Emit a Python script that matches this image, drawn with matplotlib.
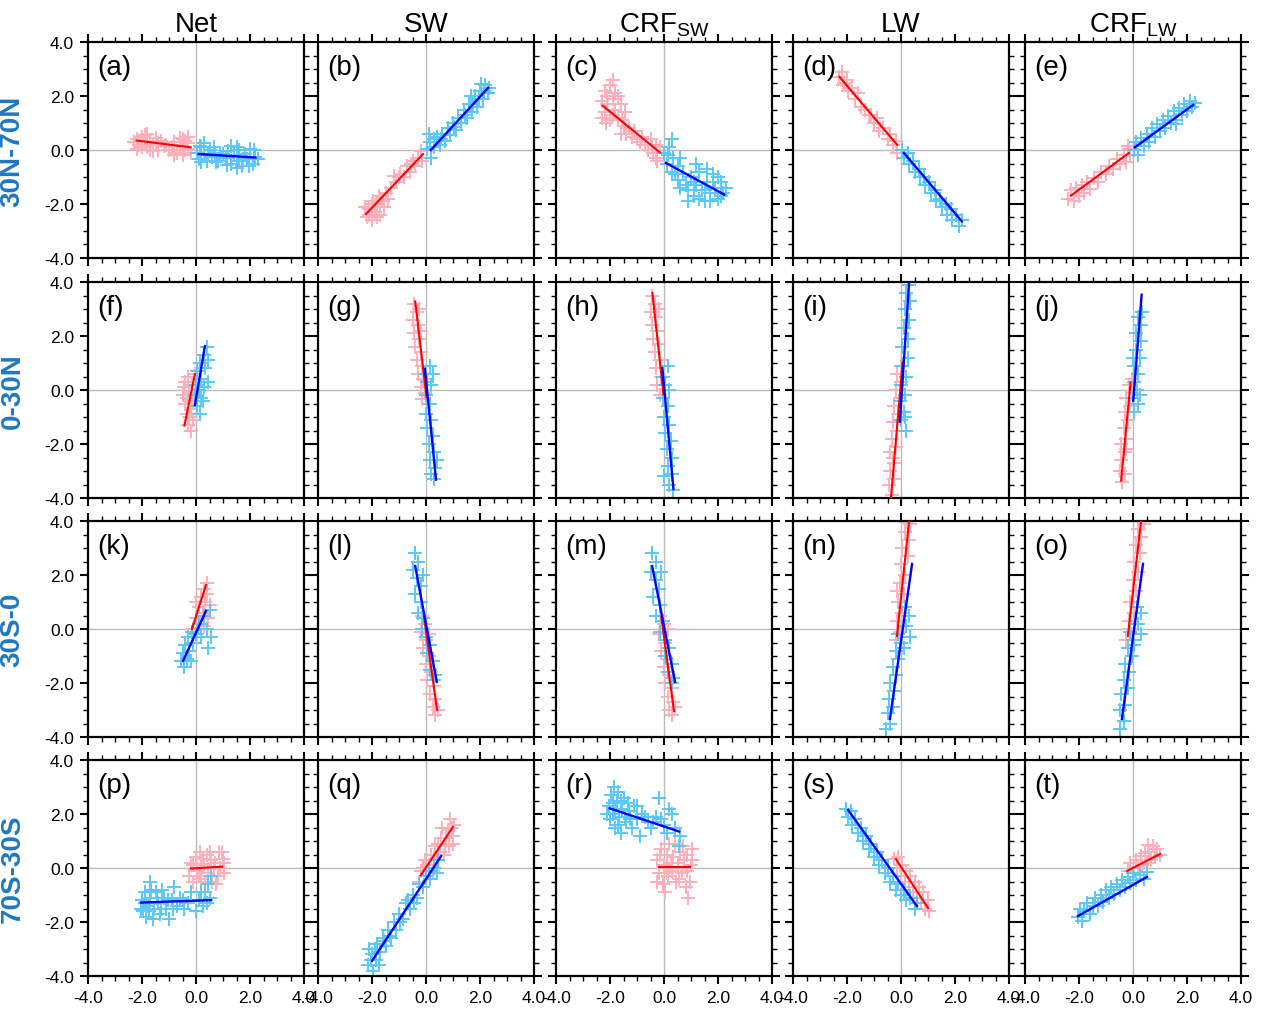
import numpy as np
import matplotlib
matplotlib.use("Agg")
import matplotlib.pyplot as plt
from matplotlib.ticker import MultipleLocator, FormatStrFormatter

plt.rcParams['font.family'] = ['Liberation Sans', 'DejaVu Sans']
plt.rcParams['mathtext.fontset'] = 'custom'
plt.rcParams['mathtext.rm'] = 'Liberation Sans'

col_titles = ['Net', 'SW', r'CRF$_{\mathrm{SW}}$', 'LW', r'CRF$_{\mathrm{LW}}$']
row_titles = ['30N-70N', '0-30N', '30S-0', '70S-30S']
letters = 'abcdefghijklmnopqrst'
tick_vals = [-4.0, -2.0, 0.0, 2.0, 4.0]

# ---- point clouds (x, y) ----
pink_a = [(-2.2,0.4),(-2.1,0.2),(-2.0,0.5),(-1.9,0.3),(-1.8,0.1),(-1.8,0.6),(-1.7,0.35),(-1.6,0.2),(-1.5,0.45),(-1.4,0.25),(-1.3,0.35),(-2.2,0.05),(-1.6,-0.05),(-0.9,0.1),(-0.8,0.3),(-0.7,-0.1),(-0.6,0.2),(-0.5,0.4),(-0.4,0.0),(-0.3,0.25),(-0.2,-0.1),(-0.3,0.5),(-1.1,0.2),(-1.0,0.0),
          (-2.3,0.3),(-2.0,0.1),(-1.9,0.55),(-1.7,0.0),(-1.5,0.3),(-1.4,0.0),(-1.2,0.15),(-0.8,-0.2),(-0.6,0.45),(-0.4,0.35),(-0.5,-0.2),(-0.3,0.05)]
blue_a = [(0.05,-0.1),(0.1,-0.35),(0.2,0.1),(0.3,-0.2),(0.4,-0.4),(0.5,0.0),(0.6,-0.25),(0.7,-0.1),(0.8,-0.4),(0.9,-0.2),(1.1,-0.3),(1.2,-0.05),(1.3,-0.5),(1.4,-0.2),(1.5,0.1),(1.6,-0.4),(1.7,-0.6),(1.8,-0.15),(1.9,-0.35),(2.0,0.05),(2.1,-0.5),(2.2,-0.25),(1.5,-0.65),(0.3,0.25),
          (0.2,-0.45),(0.45,-0.15),(0.65,0.1),(0.75,-0.45),(1.0,-0.15),(1.3,0.15),(1.6,0.0),(1.75,-0.35),(1.95,-0.6),(2.15,0.0),(2.3,-0.35),(1.15,-0.55),(0.15,0.15)]
pink_b = [(-2.2,-2.5),(-2.1,-2.2),(-2.0,-2.6),(-1.95,-1.9),(-1.9,-2.3),(-1.8,-2.0),(-1.75,-1.7),(-1.7,-2.4),(-1.6,-1.9),(-1.5,-1.6),(-1.4,-1.8),(-1.3,-1.4),(-1.1,-1.2),(-0.95,-0.9),(-0.8,-1.0),(-0.7,-0.6),(-0.6,-0.8),(-0.5,-0.4),(-0.4,-0.6),(-0.3,-0.3),(-0.2,-0.05),(-0.15,-0.4),(-1.2,-0.95),(-2.25,-2.1),
          (-2.1,-2.4),(-1.9,-2.1),(-1.8,-2.5),(-1.65,-1.8),(-2.0,-2.0),(-1.55,-2.1),(-1.0,-1.0),(-0.55,-0.5)]
blue_b = [(0.05,0.05),(0.2,-0.3),(0.15,0.3),(0.3,0.1),(0.4,0.5),(0.5,0.2),(0.6,0.6),(0.7,0.35),(0.8,0.8),(0.9,0.55),(1.0,1.0),(1.1,0.75),(1.2,1.2),(1.3,1.0),(1.4,1.5),(1.5,1.2),(1.6,1.7),(1.7,1.4),(1.8,2.0),(1.9,1.6),(2.0,2.2),(2.1,1.9),(2.2,2.4),(2.3,2.1),(1.65,2.0),(0.1,0.6),
          (0.3,0.4),(0.55,0.4),(1.05,0.85),(1.45,1.3),(1.75,1.7),(1.95,1.9),(2.15,2.2),(2.35,2.3),(2.05,2.45)]
pink_c = [(-2.3,1.8),(-2.2,2.2),(-2.2,1.4),(-2.1,1.7),(-2.0,2.4),(-2.0,1.1),(-1.9,1.9),(-1.8,1.5),(-1.8,2.1),(-1.7,1.2),(-1.6,1.7),(-1.5,0.9),(-1.45,1.4),(-1.6,0.6),(-1.3,0.8),(-1.1,0.7),(-1.0,0.4),(-0.8,0.5),(-0.7,0.2),(-0.6,0.0),(-0.5,0.4),(-0.4,-0.1),(-0.3,0.2),(-0.25,-0.4),(-0.15,0.1),(-2.3,1.2),
          (-2.1,2.0),(-1.9,1.3),(-1.7,2.0),(-1.55,1.1),(-2.15,1.0),(-1.4,0.6),(-1.2,0.5),(-0.9,0.3),(-0.45,0.2),(-0.3,-0.3),(-1.9,2.6)]
blue_c = [(0.0,-0.1),(0.1,-0.5),(0.2,0.1),(0.3,-0.8),(0.35,-0.3),(0.5,-1.1),(0.5,-0.6),(0.6,-1.4),(0.7,-0.9),(0.8,-1.3),(0.9,-1.5),(1.0,-1.0),(1.1,-1.7),(1.2,-1.3),(1.3,-0.8),(1.4,-1.5),(1.5,-1.9),(1.6,-1.2),(1.7,-1.6),(1.8,-0.9),(1.9,-1.4),(2.0,-1.8),(2.1,-1.2),(2.2,-1.6),(2.3,-1.4),(1.2,-0.5),(0.3,0.4),
          (0.15,-0.2),(0.4,-0.9),(0.6,-0.3),(1.3,-1.8),(1.5,-1.5),(1.7,-1.9),(1.8,-1.2),(2.0,-1.0),(2.1,-1.7),(1.6,-0.7),(1.1,-1.2),(0.9,-1.9)]
pink_d = [(-2.3,2.7),(-2.2,2.9),(-2.15,2.4),(-2.0,2.6),(-1.95,2.2),(-1.8,2.3),(-1.7,1.9),(-1.6,2.1),(-1.5,1.6),(-1.35,1.5),(-1.2,1.3),(-1.0,1.0),(-0.9,1.2),(-0.8,0.7),(-0.65,0.8),(-0.5,0.4),(-0.4,0.6),(-0.3,0.2),(-0.2,0.35),(-0.15,-0.1),(-1.1,1.3),(-2.1,2.5)]
blue_d = [(0.05,0.0),(0.1,-0.3),(0.25,-0.1),(0.3,-0.5),(0.45,-0.4),(0.5,-0.8),(0.65,-0.7),(0.7,-1.0),(0.85,-1.0),(0.9,-1.3),(1.05,-1.2),(1.1,-1.6),(1.25,-1.5),(1.3,-1.9),(1.45,-1.8),(1.5,-2.1),(1.65,-2.0),(1.7,-2.4),(1.85,-2.2),(1.9,-2.6),(2.05,-2.4),(2.15,-2.8),(2.25,-2.6)]
pink_e = [(-2.4,-1.8),(-2.3,-1.5),(-2.2,-1.9),(-2.1,-1.4),(-2.0,-1.7),(-1.9,-1.3),(-1.8,-1.6),(-1.7,-1.2),(-1.6,-1.45),(-1.45,-1.05),(-1.3,-1.2),(-1.2,-0.8),(-1.0,-0.9),(-0.9,-0.6),(-0.75,-0.7),(-0.6,-0.35),(-0.5,-0.5),(-0.35,-0.2),(-0.25,-0.45),(-0.15,0.05),(-0.1,-0.2),(-0.2,0.15)]
blue_e = [(0.05,0.0),(0.1,0.3),(0.2,-0.2),(0.3,0.45),(0.4,0.15),(0.5,0.6),(0.6,0.3),(0.7,0.8),(0.8,0.5),(0.9,0.95),(1.0,0.7),(1.1,1.1),(1.2,0.8),(1.3,1.25),(1.4,1.0),(1.5,1.45),(1.6,1.1),(1.7,1.55),(1.8,1.3),(1.9,1.7),(2.0,1.45),(2.1,1.8),(2.2,1.6),(2.3,1.75),(1.6,0.95)]

pink_f = [(-0.5,-0.2),(-0.45,0.1),(-0.4,-0.5),(-0.4,0.3),(-0.35,-0.9),(-0.3,-1.3),(-0.3,0.5),(-0.25,-0.1),(-0.2,-0.7),(-0.2,-1.5),(-0.15,0.2),(-0.1,-1.1),(-0.1,-0.4),(-0.05,0.6),(-0.35,-0.3),(-0.25,-1.0)]
blue_f = [(-0.05,-0.2),(0.0,0.2),(0.05,-0.6),(0.05,0.7),(0.1,0.0),(0.15,-0.9),(0.15,1.0),(0.2,0.4),(0.25,-0.4),(0.3,1.3),(0.35,0.8),(0.4,1.6),(0.45,0.3),(0.2,-0.3),(0.3,0.1),(0.45,1.1)]
pink_g = [(-0.45,3.2),(-0.35,2.9),(-0.5,2.6),(-0.3,2.4),(-0.45,2.1),(-0.25,1.9),(-0.4,1.6),(-0.2,1.4),(-0.35,1.1),(-0.15,0.9),(-0.3,0.6),(-0.1,0.4),(-0.2,0.1),(-0.05,-0.1),(-0.15,-0.35),(-0.25,3.0),(-0.2,2.2)]
blue_g = [(-0.05,0.6),(0.15,0.9),(0.05,0.3),(0.2,0.2),(0.0,-0.2),(0.15,-0.5),(0.0,-0.9),(0.2,-1.1),(0.05,-1.4),(0.25,-1.7),(0.1,-2.0),(0.3,-2.3),(0.15,-2.6),(0.35,-2.9),(0.2,-3.1),(0.3,-3.3),(0.4,-2.6),(0.25,0.6)]
pink_h = [(-0.45,3.5),(-0.35,3.2),(-0.5,2.9),(-0.3,2.7),(-0.45,2.4),(-0.25,2.2),(-0.4,1.9),(-0.2,1.7),(-0.35,1.4),(-0.15,1.1),(-0.3,0.8),(-0.1,0.5),(-0.25,0.2),(-0.05,0.0),(-0.15,-0.2),(-0.2,3.0)]
blue_h = [(-0.05,0.5),(0.15,0.9),(0.05,0.2),(0.2,0.0),(-0.05,-0.3),(0.15,-0.6),(0.0,-1.0),(0.2,-1.3),(0.05,-1.6),(0.25,-1.9),(0.1,-2.2),(0.3,-2.5),(0.15,-2.8),(0.3,-3.1),(0.2,-3.5),(0.35,-3.7),(0.0,-3.2)]
pink_i = [(-0.35,-3.9),(-0.45,-3.5),(-0.25,-3.3),(-0.4,-3.0),(-0.25,-2.7),(-0.4,-2.3),(-0.2,-2.1),(-0.35,-1.8),(-0.15,-1.5),(-0.3,-1.2),(-0.1,-0.9),(-0.25,-0.6),(-0.05,-0.3),(-0.2,0.0),(0.0,0.3),(-0.15,0.6),(0.0,0.9),(-0.3,-2.5)]
blue_i = [(0.0,-1.1),(0.2,-1.5),(0.1,-0.8),(-0.05,-0.4),(0.15,-0.2),(0.0,0.2),(0.2,0.5),(0.05,0.9),(0.25,1.2),(0.05,1.6),(0.25,1.9),(0.1,2.3),(0.3,2.6),(0.15,3.0),(0.35,3.3),(0.2,3.6),(0.3,3.9),(0.15,-1.0)]
pink_j = [(-0.4,-3.4),(-0.5,-3.0),(-0.3,-3.1),(-0.45,-2.6),(-0.3,-2.3),(-0.45,-2.0),(-0.25,-1.8),(-0.35,-1.4),(-0.2,-1.1),(-0.3,-0.8),(-0.1,-0.6),(-0.25,-0.3),(-0.05,-0.1),(-0.15,0.2),(-0.05,0.4),(-0.25,-2.2)]
blue_j = [(0.05,-0.8),(0.2,-0.5),(0.0,-0.3),(0.15,0.0),(0.05,0.3),(0.2,0.6),(0.05,0.9),(0.25,1.2),(0.1,1.5),(0.3,1.8),(0.1,2.1),(0.3,2.4),(0.2,2.7),(0.35,2.9),(0.0,1.2),(0.25,-0.2)]

pink_k = [(-0.1,0.0),(0.0,0.4),(0.05,-0.2),(0.1,0.8),(0.15,0.2),(0.2,1.2),(0.25,0.6),(0.3,1.5),(0.35,1.0),(0.4,1.7),(0.45,0.4),(0.4,1.3),(0.2,-0.3),(0.3,0.1),(0.0,1.0),(0.5,0.9)]
blue_k = [(-0.55,-1.2),(-0.5,-0.9),(-0.45,-1.4),(-0.4,-0.6),(-0.35,-1.1),(-0.3,-0.3),(-0.25,-0.8),(-0.2,-1.2),(-0.15,-0.1),(-0.1,-0.5),(0.0,-0.2),(0.1,0.2),(0.2,-0.3),(0.3,0.5),(0.4,0.0),(0.5,0.7),(0.55,-0.3),(0.45,-0.7)]
pink_l = [(-0.15,0.5),(-0.05,0.2),(-0.2,-0.1),(0.0,-0.4),(-0.1,-0.7),(0.1,-1.0),(0.0,-1.3),(0.2,-1.6),(0.05,-1.9),(0.3,-2.1),(0.15,-2.4),(0.35,-2.6),(0.25,-2.9),(0.45,-3.0),(0.35,-3.2),(0.1,-0.2)]
blue_l = [(-0.4,2.8),(-0.3,2.5),(-0.5,2.2),(-0.35,1.9),(-0.2,1.6),(-0.4,1.3),(-0.2,1.0),(-0.3,0.6),(-0.1,0.4),(-0.15,0.0),(0.0,-0.3),(0.15,-0.6),(0.05,-0.9),(0.25,-1.2),(0.15,-1.5),(0.35,-1.7),(0.3,-1.9),(-0.1,2.0)]
pink_m = [(-0.15,0.5),(0.0,0.2),(-0.2,-0.2),(0.05,-0.5),(-0.1,-0.8),(0.1,-1.1),(0.0,-1.4),(0.2,-1.7),(0.05,-2.0),(0.3,-2.2),(0.15,-2.5),(0.35,-2.7),(0.2,-3.0),(0.4,-2.9),(0.3,-3.2),(0.15,0.0)]
blue_m = [(-0.45,2.8),(-0.3,2.5),(-0.5,2.1),(-0.3,1.8),(-0.2,1.5),(-0.4,1.2),(-0.15,0.9),(-0.3,0.5),(-0.05,0.3),(-0.15,-0.1),(0.05,-0.4),(0.2,-0.7),(0.05,-1.0),(0.3,-1.3),(0.15,-1.6),(0.35,-1.8),(0.3,-2.0),(-0.1,2.1)]
pink_n = [(-0.2,-0.4),(-0.05,-0.1),(-0.15,0.3),(0.05,0.6),(-0.1,1.0),(0.1,1.3),(-0.05,1.7),(0.15,2.0),(0.0,2.4),(0.25,2.7),(0.05,3.0),(0.3,3.3),(0.15,3.6),(0.35,3.9),(0.2,3.95),(-0.15,1.4)]
blue_n = [(-0.55,-3.7),(-0.4,-3.5),(-0.5,-3.1),(-0.3,-2.9),(-0.45,-2.6),(-0.25,-2.3),(-0.4,-2.0),(-0.2,-1.7),(-0.3,-1.4),(-0.1,-1.1),(-0.2,-0.8),(0.0,-0.5),(-0.1,-0.2),(0.2,0.1),(0.3,0.5),(0.15,0.8),(0.35,-0.3),(0.1,-0.7)]
pink_o = [(-0.25,-0.4),(-0.05,-0.2),(-0.15,0.3),(0.05,0.6),(-0.1,1.0),(0.1,1.4),(0.0,1.8),(0.2,2.1),(0.05,2.5),(0.25,2.8),(0.1,3.1),(0.3,3.4),(0.2,3.7),(0.4,3.9),(0.3,4.0),(-0.1,0.0)]
blue_o = [(-0.5,-3.7),(-0.35,-3.4),(-0.5,-3.0),(-0.3,-2.8),(-0.45,-2.4),(-0.2,-2.2),(-0.35,-1.9),(-0.15,-1.6),(-0.3,-1.3),(-0.05,-1.0),(-0.2,-0.7),(0.0,-0.4),(-0.1,-0.1),(0.2,0.2),(0.3,0.6),(0.15,0.8),(0.3,-0.2),(0.05,-0.6)]

pink_p = [(-0.25,-0.3),(-0.2,0.2),(-0.1,-0.5),(0.0,0.4),(0.05,-0.1),(0.15,0.6),(0.2,-0.4),(0.3,0.1),(0.4,0.5),(0.45,-0.2),(0.55,0.3),(0.6,-0.5),(0.7,0.2),(0.8,-0.3),(0.85,0.6),(0.9,0.0),(1.0,0.35),(1.05,-0.2),(0.75,-0.6),(0.25,0.35),
          (-0.1,0.1),(0.1,-0.3),(0.35,-0.5),(0.5,0.6),(0.65,0.0),(0.95,0.6),(1.05,0.2),(0.2,0.15)]
blue_p = [(-2.0,-1.2),(-1.95,-1.6),(-1.9,-0.9),(-1.85,-1.8),(-1.8,-1.4),(-1.7,-0.5),(-1.7,-1.1),(-1.6,-1.9),(-1.55,-1.5),(-1.5,-0.9),(-1.4,-1.3),(-1.35,-1.7),(-1.2,-1.1),(-1.1,-1.5),(-1.0,-1.9),(-0.9,-1.2),(-0.8,-0.7),(-0.7,-1.4),(-0.6,-1.1),(-0.45,-1.5),(-0.3,-1.3),(-0.2,-0.9),(0.0,-1.6),(0.1,-1.2),(0.25,-1.4),(0.35,-0.9),(0.45,-0.6),(0.55,-0.3),(0.5,-1.1),
          (-2.05,-1.5),(-1.9,-1.3),(-1.75,-1.6),(-1.65,-0.8),(-1.45,-1.1),(-1.3,-1.5),(-1.25,-0.8),(-1.05,-1.2),(-0.85,-1.5),(-0.5,-1.2),(0.4,-1.3),(0.2,-0.9)]
pink_q = [(-0.25,-0.5),(-0.2,-0.1),(-0.05,0.3),(0.0,-0.3),(0.1,0.1),(0.2,0.5),(0.25,-0.1),(0.35,0.8),(0.4,0.3),(0.5,0.6),(0.55,1.1),(0.65,0.5),(0.7,0.9),(0.8,1.4),(0.85,0.8),(0.9,1.8),(1.0,1.2),(1.05,1.6),(0.6,1.5),
          (-0.1,0.0),(0.3,0.3),(0.45,0.9),(0.75,1.1),(0.95,1.5),(1.0,0.9)]
blue_q = [(-2.15,-3.6),(-2.0,-3.2),(-2.1,-3.0),(-1.95,-3.8),(-1.85,-3.4),(-1.8,-2.8),(-1.7,-3.1),(-1.6,-2.6),(-1.5,-2.9),(-1.4,-2.3),(-1.3,-2.6),(-1.2,-2.0),(-1.1,-2.3),(-1.0,-1.7),(-0.85,-1.9),(-0.75,-1.3),(-0.6,-1.5),(-0.5,-1.0),(-0.35,-1.1),(-0.25,-0.6),(-0.1,-0.7),(0.0,-0.3),(0.15,-0.4),(0.3,0.0),(0.45,0.3),(0.4,-0.2),
          (-2.05,-3.4),(-1.9,-3.0),(-1.75,-3.6),(-1.55,-2.7),(-1.35,-2.5),(-0.95,-2.0),(-0.65,-1.2),(-0.45,-1.3),(0.1,-0.1)]
pink_r = [(-0.25,0.3),(-0.2,-0.2),(-0.1,0.7),(-0.05,-0.6),(0.0,0.1),(0.1,0.5),(0.15,-0.3),(0.2,0.9),(0.3,-0.1),(0.35,0.4),(0.45,-0.5),(0.5,0.2),(0.6,0.6),(0.65,-0.2),(0.75,0.3),(0.8,-0.7),(0.85,0.5),(0.9,-1.1),(1.0,0.1),(1.05,0.7),(0.4,0.9),
          (-0.25,-0.5),(-0.15,0.5),(0.05,-0.9),(0.25,0.2),(0.55,-0.4),(0.7,0.8),(0.95,-0.5),(1.05,0.3),(0.85,-0.1),(0.1,-0.2)]
blue_r = [(-2.05,2.3),(-2.0,1.8),(-1.95,2.7),(-1.9,2.0),(-1.85,3.0),(-1.8,1.5),(-1.75,2.4),(-1.7,2.8),(-1.65,1.9),(-1.6,1.3),(-1.55,2.2),(-1.5,2.6),(-1.4,1.7),(-1.3,2.1),(-1.2,1.5),(-1.1,2.3),(-1.0,1.8),(-0.9,1.2),(-0.8,2.0),(-0.6,1.7),(-0.5,1.5),(-0.3,1.9),(-0.2,2.6),(0.0,1.6),(0.1,1.3),(0.3,2.0),(0.4,1.5),(0.6,1.2),(0.55,0.8),
          (-2.1,2.0),(-1.9,2.4),(-1.8,2.2),(-1.7,1.6),(-1.6,2.5),(-1.45,1.9),(-1.35,2.4),(-1.25,1.8),(-1.0,2.3),(-0.7,1.9),(-0.4,1.7),(-0.1,1.8),(0.2,2.2)]
pink_s = [(-0.25,0.35),(-0.15,0.0),(-0.1,0.4),(0.0,-0.3),(0.05,0.1),(0.15,-0.5),(0.2,-0.1),(0.3,-0.7),(0.35,-0.3),(0.45,-0.9),(0.5,-0.5),(0.6,-1.1),(0.65,-0.7),(0.75,-1.3),(0.8,-0.9),(0.9,-1.5),(1.0,-1.2),(1.05,-1.6)]
blue_s = [(-2.05,2.2),(-1.95,1.9),(-1.85,2.1),(-1.8,1.6),(-1.7,1.8),(-1.6,1.3),(-1.5,1.5),(-1.4,1.0),(-1.3,1.2),(-1.2,0.7),(-1.1,0.9),(-1.0,0.4),(-0.9,0.6),(-0.8,0.1),(-0.7,0.3),(-0.6,-0.2),(-0.5,0.0),(-0.4,-0.5),(-0.3,-0.3),(-0.2,-0.8),(-0.1,-0.6),(0.0,-1.0),(0.1,-0.8),(0.2,-1.2),(0.35,-1.1),(0.5,-1.5),(0.6,-1.3)]
pink_t = [(-0.2,-0.1),(-0.1,0.2),(0.0,-0.2),(0.1,0.3),(0.2,0.05),(0.3,0.45),(0.35,0.1),(0.45,0.55),(0.5,0.2),(0.6,0.6),(0.65,0.3),(0.75,0.8),(0.8,0.4),(0.9,0.7),(1.0,0.5),(0.55,0.85)]
blue_t = [(-2.05,-1.8),(-1.95,-1.5),(-1.9,-1.95),(-1.8,-1.6),(-1.7,-1.3),(-1.6,-1.7),(-1.5,-1.4),(-1.4,-1.1),(-1.3,-1.4),(-1.2,-1.0),(-1.1,-1.25),(-1.0,-0.8),(-0.9,-1.1),(-0.8,-0.7),(-0.7,-0.95),(-0.6,-0.6),(-0.5,-0.8),(-0.4,-0.45),(-0.3,-0.7),(-0.2,-0.35),(-0.1,-0.55),(0.0,-0.2),(0.1,-0.45),(0.25,-0.25),(0.4,-0.4),(0.5,-0.15)]

# ---- fit lines: x0, y0, x1, y1 ----
red_fit = {
    'a': [-2.2, 0.35, -0.2, 0.1], 'b': [-2.22, -2.37, -0.11, -0.15], 'c': [-2.27, 1.64, -0.15, -0.09],
    'd': [-2.28, 2.71, -0.14, 0.19], 'e': [-2.30, -1.69, -0.15, -0.11],
    'f': [-0.43, -1.32, -0.04, 0.59], 'g': [-0.40, 3.28, 0.02, -0.27], 'h': [-0.43, 3.59, -0.02, -0.15],
    'i': [-0.37, -3.97, 0.06, 1.02], 'j': [-0.44, -3.36, -0.09, 0.28],
    'k': [-0.15, 0.0, 0.37, 1.63], 'l': [-0.07, 0.44, 0.41, -3.0], 'm': [-0.1, 0.44, 0.37, -3.04],
    'n': [-0.15, -0.26, 0.3, 4.0], 'o': [-0.19, -0.26, 0.3, 4.0],
    'p': [-0.19, -0.02, 0.96, 0.05], 'q': [-0.19, -0.26, 1.0, 1.52], 'r': [-0.2, 0.02, 0.98, 0.02],
    's': [-0.19, 0.33, 1.0, -1.48], 't': [-0.22, -0.11, 1.0, 0.52],
}
blue_fit = {
    'a': [0.1, -0.15, 2.2, -0.28], 'b': [0.18, 0.0, 2.3, 2.3], 'c': [0.07, -0.48, 2.23, -1.65],
    'd': [0.11, -0.11, 2.25, -2.64], 'e': [0.07, 0.1, 2.23, 1.67],
    'f': [-0.04, -0.56, 0.33, 1.62], 'g': [-0.04, 0.78, 0.37, -3.32], 'h': [-0.06, 0.81, 0.35, -3.67],
    'i': [-0.04, -1.17, 0.30, 4.0], 'j': [0.01, -0.40, 0.32, 3.53],
    'k': [-0.48, -1.18, 0.37, 0.67], 'l': [-0.4, 2.33, 0.4, -1.96], 'm': [-0.44, 2.33, 0.41, -1.96],
    'n': [-0.41, -3.33, 0.41, 2.41], 'o': [-0.41, -3.33, 0.37, 2.41],
    'p': [-2.04, -1.28, 0.56, -1.19], 'q': [-2.0, -3.44, 0.56, 0.44], 'r': [-2.01, 2.21, 0.56, 1.35],
    's': [-1.96, 2.15, 0.59, -1.41], 't': [-2.04, -1.78, 0.52, -0.33],
}

pink_pts = dict(zip(letters, [pink_a, pink_b, pink_c, pink_d, pink_e, pink_f, pink_g, pink_h, pink_i, pink_j,
                              pink_k, pink_l, pink_m, pink_n, pink_o, pink_p, pink_q, pink_r, pink_s, pink_t]))
blue_pts = dict(zip(letters, [blue_a, blue_b, blue_c, blue_d, blue_e, blue_f, blue_g, blue_h, blue_i, blue_j,
                              blue_k, blue_l, blue_m, blue_n, blue_o, blue_p, blue_q, blue_r, blue_s, blue_t]))

PINK = '#FFAFBA'
LBLUE = '#5AC8F8'

fig = plt.figure(figsize=(12.66, 10.12), dpi=100)
W, H = 1266.0, 1012.0
col_left = [88, 318, 556, 793, 1025]
row_top = [43, 283, 522, 761]
size = 216

for r in range(4):
    for c in range(5):
        k = letters[r * 5 + c]
        ax = fig.add_axes([col_left[c] / W, 1 - (row_top[r] + size) / H, size / W, size / H])
        ax.set_xlim(-4, 4)
        ax.set_ylim(-4, 4)
        ax.axhline(0, color='#BBBBBB', lw=1.0, zorder=1)
        ax.axvline(0, color='#BBBBBB', lw=1.0, zorder=1)

        p = np.array(pink_pts[k])
        b = np.array(blue_pts[k])
        ax.plot(p[:, 0], p[:, 1], '+', color=PINK, ms=10, mew=1.4, zorder=2)
        ax.plot(b[:, 0], b[:, 1], '+', color=LBLUE, ms=10, mew=1.4, zorder=2)
        rf = red_fit[k]
        bf = blue_fit[k]
        ax.plot([rf[0], rf[2]], [rf[1], rf[3]], color='#FF0000', lw=1.5, zorder=3)
        ax.plot([bf[0], bf[2]], [bf[1], bf[3]], color='#0000FF', lw=1.7, zorder=3)

        ax.text(0.045, 0.885, '(' + k + ')', transform=ax.transAxes, fontsize=20, va='center', ha='left')

        ax.set_xticks(tick_vals)
        ax.set_yticks(tick_vals)
        ax.xaxis.set_minor_locator(MultipleLocator(0.5))
        ax.yaxis.set_minor_locator(MultipleLocator(0.5))
        ax.xaxis.set_major_formatter(FormatStrFormatter('%.1f'))
        ax.yaxis.set_major_formatter(FormatStrFormatter('%.1f'))
        ax.tick_params(which='both', direction='out', top=True, right=True, labelsize=12.5)
        ax.tick_params(which='major', length=6, width=1.5, pad=4)
        ax.tick_params(which='minor', length=3.5, width=1.0)
        if r != 3:
            ax.tick_params(labelbottom=False)
        if c != 0:
            ax.tick_params(labelleft=False)
        for s in ax.spines.values():
            s.set_linewidth(1.6)

        if r == 0:
            ax.set_title(col_titles[c], fontsize=20, pad=8)
        if c == 0:
            ax.text(-0.35, 0.5, row_titles[r], transform=ax.transAxes, rotation=90,
                    fontsize=20, fontweight='bold', color='#1F78C4', va='center', ha='center')

fig.savefig('out.png', dpi=100)
